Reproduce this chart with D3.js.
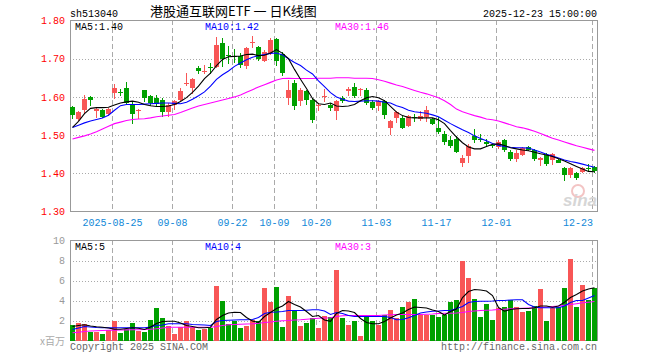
<!DOCTYPE html>
<html>
<head>
<meta charset="utf-8">
<script src="https://cdn.jsdelivr.net/npm/d3@7"></script>
<style>
  body { margin: 0; background: #fff; }
  text { font-family: "Liberation Mono", "DejaVu Sans Mono", monospace; font-size: 10px; }
</style>
</head>
<body>
<div id="chart"></div>
<script>
// daily candles, 2025-08-14 .. 2025-12-23
var opens = [1.574,1.543,1.565,1.599,1.564,1.566,1.555,1.610,1.612,1.622,1.578,1.563,1.617,1.603,1.596,1.593,1.560,1.579,1.593,1.633,
  1.624,1.675,1.664,1.679,1.678,1.740,1.710,1.706,1.707,1.680,1.741,1.730,1.694,1.714,1.751,1.713,1.596,1.637,1.588,1.615,
  1.593,1.575,1.600,1.579,1.563,1.597,1.615,1.625,1.618,1.619,1.586,1.575,1.588,1.518,1.545,1.546,1.523,1.547,1.542,1.547,
  1.541,1.518,1.504,1.488,1.490,1.426,1.446,1.497,1.490,1.483,1.473,1.469,1.488,1.457,1.437,1.449,1.468,1.461,1.435,1.447,
  1.436,1.435,1.413,1.396,1.400,1.403,1.413,1.417];
var highs = [1.577,1.564,1.605,1.603,1.571,1.569,1.572,1.633,1.621,1.638,1.588,1.568,1.619,1.606,1.604,1.597,1.585,1.591,1.624,1.662,
  1.649,1.680,1.683,1.689,1.757,1.753,1.733,1.726,1.716,1.730,1.759,1.733,1.722,1.753,1.753,1.717,1.645,1.645,1.624,1.619,
  1.597,1.584,1.621,1.584,1.593,1.602,1.626,1.637,1.624,1.622,1.591,1.593,1.593,1.540,1.564,1.551,1.553,1.556,1.562,1.575,
  1.545,1.547,1.511,1.497,1.498,1.448,1.478,1.516,1.504,1.490,1.478,1.488,1.490,1.461,1.460,1.468,1.472,1.463,1.443,1.453,
  1.454,1.438,1.417,1.417,1.404,1.417,1.425,1.418];
var lows = [1.541,1.538,1.556,1.575,1.545,1.544,1.551,1.594,1.603,1.581,1.529,1.543,1.586,1.575,1.575,1.548,1.548,1.566,1.588,1.628,
  1.608,1.660,1.659,1.659,1.676,1.679,1.686,1.688,1.675,1.672,1.729,1.694,1.692,1.710,1.680,1.654,1.579,1.567,1.575,1.580,
  1.532,1.563,1.586,1.563,1.540,1.585,1.602,1.597,1.602,1.579,1.567,1.564,1.542,1.501,1.532,1.516,1.521,1.534,1.536,1.533,
  1.527,1.504,1.475,1.466,1.453,1.416,1.426,1.479,1.481,1.468,1.465,1.463,1.457,1.431,1.429,1.444,1.459,1.431,1.418,1.419,
  1.422,1.426,1.381,1.387,1.383,1.400,1.404,1.402];
var closes = [1.552,1.560,1.595,1.591,1.569,1.548,1.569,1.622,1.610,1.584,1.556,1.567,1.596,1.585,1.581,1.560,1.580,1.589,1.615,1.636,
  1.646,1.667,1.667,1.677,1.735,1.700,1.708,1.704,1.684,1.727,1.743,1.700,1.717,1.749,1.694,1.663,1.617,1.576,1.617,1.593,
  1.540,1.578,1.603,1.571,1.588,1.588,1.621,1.602,1.620,1.584,1.571,1.590,1.553,1.536,1.560,1.518,1.549,1.545,1.551,1.566,
  1.530,1.509,1.483,1.472,1.457,1.440,1.472,1.487,1.489,1.476,1.472,1.481,1.461,1.437,1.454,1.466,1.460,1.437,1.439,1.425,
  1.451,1.427,1.396,1.414,1.387,1.414,1.412,1.405];

// moving averages as drawn on the chart
var ma5 = [1.520,1.536,1.556,1.570,1.572,1.572,1.573,1.579,1.584,1.587,1.589,1.586,1.580,1.577,1.575,1.575,1.576,1.580,1.588,1.598,
  1.612,1.628,1.648,1.662,1.682,1.698,1.705,1.706,1.707,1.711,1.712,1.708,1.709,1.715,1.724,1.714,1.700,1.672,1.646,1.622,
  1.596,1.582,1.580,1.584,1.576,1.575,1.576,1.580,1.590,1.598,1.601,1.598,1.590,1.575,1.560,1.551,1.546,1.545,1.545,1.545,
  1.545,1.540,1.530,1.512,1.495,1.480,1.469,1.464,1.464,1.470,1.476,1.477,1.473,1.467,1.464,1.461,1.459,1.455,1.451,1.448,
  1.444,1.438,1.432,1.425,1.418,1.411,1.405,1.404];
var ma10 = [1.520,1.526,1.532,1.537,1.541,1.545,1.552,1.565,1.577,1.580,1.580,1.580,1.581,1.582,1.583,1.584,1.584,1.583,1.582,1.586,
  1.594,1.603,1.613,1.628,1.646,1.658,1.668,1.680,1.689,1.697,1.704,1.708,1.711,1.714,1.715,1.710,1.700,1.690,1.682,1.670,
  1.660,1.642,1.627,1.611,1.600,1.594,1.589,1.588,1.589,1.590,1.590,1.589,1.586,1.584,1.577,1.572,1.565,1.561,1.559,1.557,
  1.553,1.548,1.539,1.530,1.522,1.514,1.507,1.498,1.491,1.485,1.478,1.473,1.470,1.468,1.467,1.467,1.466,1.461,1.456,1.450,
  1.445,1.440,1.435,1.431,1.428,1.424,1.420,1.416];
var ma30 = [1.490,1.494,1.498,1.503,1.509,1.516,1.523,1.530,1.534,1.538,1.541,1.542,1.543,1.545,1.548,1.550,1.552,1.554,1.559,1.565,
  1.571,1.576,1.580,1.584,1.588,1.592,1.596,1.600,1.605,1.612,1.619,1.626,1.632,1.638,1.644,1.648,1.649,1.648,1.648,1.648,
  1.648,1.649,1.649,1.649,1.650,1.650,1.650,1.649,1.649,1.649,1.648,1.645,1.641,1.636,1.631,1.627,1.622,1.617,1.612,1.608,
  1.603,1.598,1.590,1.580,1.568,1.561,1.556,1.551,1.547,1.542,1.540,1.537,1.532,1.527,1.522,1.519,1.515,1.510,1.504,1.498,
  1.492,1.487,1.482,1.477,1.472,1.468,1.464,1.460];

// volume, millions of shares
var volumes = [1.6,1.8,1.7,0.83,0.85,0.7,1.1,1.93,0.8,1.2,1.75,0.95,0.9,2.03,3.3,2.23,1.5,0.7,1.4,2.0,
  1.4,1.1,1.13,1.27,5.5,3.93,1.67,1.93,1.27,1.5,2.07,2.0,5.23,3.83,5.4,1.33,4.43,3.1,1.5,1.73,
  2.27,1.23,2.43,2.33,7.1,2.3,1.6,2.0,0.47,2.6,2.0,1.6,2.6,3.1,2.27,3.33,3.83,4.2,2.6,2.6,
  2.6,2.33,2.6,3.83,4.1,7.93,6.3,4.2,2.4,3.7,2.1,3.27,3.33,4.03,3.4,2.83,3.0,3.5,5.2,2.0,
  3.27,3.33,5.3,8.2,3.4,5.6,4.1,5.27];
var volMa5 = [1.40,1.50,1.57,1.45,1.38,1.33,1.25,1.12,1.12,1.20,1.28,1.22,1.10,1.35,1.70,1.90,1.93,1.93,1.75,1.50,
  1.40,1.27,1.28,1.33,2.10,2.50,2.75,2.83,2.80,2.30,1.95,1.80,2.40,2.80,3.20,3.45,3.90,3.60,3.35,2.90,
  2.40,2.50,2.05,1.92,2.70,3.00,2.95,2.80,2.20,1.80,1.67,1.67,1.90,2.25,2.55,2.75,3.10,3.35,3.30,3.25,
  3.05,2.90,2.55,2.90,3.15,4.30,4.90,5.10,5.05,4.95,4.50,3.30,2.93,3.10,3.17,3.20,3.20,3.27,3.45,3.45,
  3.33,3.45,3.83,4.30,4.60,4.95,5.15,5.27];
var volMa10 = [1.10,1.25,1.40,1.35,1.30,1.27,1.27,1.27,1.27,1.27,1.27,1.27,1.27,1.35,1.50,1.55,1.67,1.67,1.67,1.67,
  1.60,1.57,1.55,1.50,1.90,2.00,2.03,2.05,2.07,2.07,2.10,2.30,2.70,2.83,2.85,2.90,3.00,3.00,3.00,3.03,
  3.07,3.07,2.95,2.60,2.80,2.70,2.50,2.40,2.40,2.40,2.40,2.40,2.40,2.30,2.07,2.10,2.27,2.50,2.75,2.85,
  2.93,2.95,3.00,3.00,3.20,3.40,3.80,3.90,3.93,3.93,3.95,4.00,4.00,4.05,4.07,4.07,3.60,3.35,3.27,3.27,
  3.27,3.27,3.45,3.80,4.00,4.00,4.25,4.50];
var volMa30 = [0.77,0.83,0.90,0.95,0.98,1.00,1.02,1.04,1.05,1.06,1.07,1.08,1.10,1.12,1.17,1.25,1.33,1.33,1.33,1.33,
  1.33,1.33,1.33,1.33,1.40,1.50,1.57,1.60,1.62,1.65,1.67,1.72,1.80,1.85,1.92,1.97,2.00,2.05,2.07,2.12,
  2.18,2.22,2.25,2.27,2.40,2.47,2.50,2.50,2.50,2.50,2.50,2.50,2.55,2.58,2.60,2.60,2.60,2.60,2.60,2.62,
  2.65,2.70,2.73,2.73,2.75,2.80,2.90,2.95,3.00,3.03,3.05,3.10,3.13,3.17,3.20,3.23,3.25,3.27,3.30,3.35,
  3.40,3.45,3.52,3.60,3.68,3.77,3.83,3.90];

var tickIndex = [7, 17, 27, 34, 41, 51, 61, 71, 87];
var tickLabels = ["2025-08-25", "09-08", "09-22", "10-09", "10-20", "11-03", "11-17", "12-01", "12-23"];
var priceTicks = [1.30, 1.40, 1.50, 1.60, 1.70, 1.80];
var volTicks = [2, 4, 6, 8, 10];

var red = "#f85656", green = "#00a000";
var n = closes.length;
var left = 70, right = 597;

var svg = d3.select("#chart").append("svg")
  .attr("width", 660)
  .attr("height", 360);

var x = d3.scaleLinear().domain([0, n]).range([left, left + 6 * n]);
var y = d3.scaleLinear().domain([1.30, 1.80]).range([211.5, 20.5]);
var yv = d3.scaleLinear().domain([0, 10]).range([340.5, 240.5]);

function px(v) { return Math.round(v) + 0.5; }

// ---- header
svg.append("text").attr("x", 70).attr("y", 16.5).text("sh513040");
svg.append("text").attr("x", 150).attr("y", 15.5)
  .style("font-family", "'Noto Sans CJK SC', sans-serif").style("font-size", "13px")
  .text("港股通互联网ETF 一 日K线图");
svg.append("text").attr("x", right).attr("y", 16.5).attr("text-anchor", "end").text("2025-12-23 15:00:00");

// ---- grids for both panels
function panel(scale, ticks, top, bottom) {
  var g = svg.append("g");
  g.selectAll(".hgrid").data(ticks).enter().append("line")
    .attr("x1", left).attr("x2", right)
    .attr("y1", function(d) { return px(scale(d)); })
    .attr("y2", function(d) { return px(scale(d)); })
    .attr("stroke", "#aaa").attr("stroke-dasharray", "1,2");
  g.selectAll(".vgrid").data(tickIndex).enter().append("line")
    .attr("x1", function(d) { return px(x(d)); })
    .attr("x2", function(d) { return px(x(d)); })
    .attr("y1", top).attr("y2", bottom)
    .attr("stroke", "#aaa").attr("stroke-dasharray", "5,3");
  g.append("rect")
    .attr("x", left + 0.5).attr("y", top + 0.5)
    .attr("width", right - left).attr("height", bottom - top)
    .attr("fill", "none").attr("stroke", "#999");
}
panel(y, [1.40, 1.50, 1.60, 1.70], 20, 211);
panel(yv, [2, 4, 6, 8], 240, 340);

// ---- candles
var idx = d3.range(n);
var candles = svg.append("g").attr("shape-rendering", "crispEdges");
candles.selectAll("line").data(idx).enter().append("line")
  .attr("x1", function(i) { return x(i) + 2.5; })
  .attr("x2", function(i) { return x(i) + 2.5; })
  .attr("y1", function(i) { return y(highs[i]); })
  .attr("y2", function(i) { return y(lows[i]); })
  .attr("stroke", function(i) { return closes[i] >= opens[i] ? red : green; });
candles.selectAll("rect").data(idx).enter().append("rect")
  .attr("x", function(i) { return x(i); })
  .attr("width", 5)
  .attr("y", function(i) { return y(Math.max(opens[i], closes[i])); })
  .attr("height", function(i) { return Math.max(1, Math.abs(y(opens[i]) - y(closes[i]))); })
  .attr("fill", function(i) { return closes[i] >= opens[i] ? red : green; });

// ---- volume bars
svg.append("g").attr("shape-rendering", "crispEdges")
  .selectAll("rect").data(idx).enter().append("rect")
  .attr("x", function(i) { return x(i); })
  .attr("width", 5)
  .attr("y", function(i) { return yv(volumes[i]); })
  .attr("height", function(i) { return yv(0) - yv(volumes[i]); })
  .attr("fill", function(i) { return closes[i] >= opens[i] ? red : green; });

// ---- moving average lines
function maLine(values, scale, color) {
  var line = d3.line()
    .x(function(d, i) { return x(i) + 2.5; })
    .y(function(d) { return scale(d); });
  svg.append("path").datum(values)
    .attr("d", line)
    .attr("fill", "none")
    .attr("stroke", color)
    .attr("stroke-width", 1.1);
}
maLine(ma30, y, "#ff00ff");
maLine(ma10, y, "#0000ff");
maLine(ma5, y, "#000");
maLine(volMa30, yv, "#ff00ff");
maLine(volMa10, yv, "#0000ff");
maLine(volMa5, yv, "#000");

// ---- legends
var legends = [
  {x: 75, y: 29.5, c: "#000", t: "MA5:1.40"},
  {x: 205, y: 29.5, c: "#0000ff", t: "MA10:1.42"},
  {x: 335, y: 29.5, c: "#ff00ff", t: "MA30:1.46"},
  {x: 75, y: 249.5, c: "#000", t: "MA5:5"},
  {x: 205, y: 249.5, c: "#0000ff", t: "MA10:4"},
  {x: 335, y: 249.5, c: "#ff00ff", t: "MA30:3"}
];
svg.selectAll(".legend").data(legends).enter().append("text")
  .attr("x", function(d) { return d.x; })
  .attr("y", function(d) { return d.y; })
  .attr("fill", function(d) { return d.c; })
  .text(function(d) { return d.t; });

// ---- axes
var yAxis = svg.append("g").attr("transform", "translate(" + left + ",0)")
  .call(d3.axisLeft(y).tickValues(priceTicks).tickFormat(d3.format(".2f")).tickSize(0).tickPadding(5));
yAxis.select(".domain").remove();
yAxis.selectAll("text").attr("fill", "#f00").style("font-size", "10px").style("font-family", null);

var vAxis = svg.append("g").attr("transform", "translate(" + left + ",0)")
  .call(d3.axisLeft(yv).tickValues(volTicks).tickFormat(d3.format("d")).tickSize(0).tickPadding(5));
vAxis.select(".domain").remove();
vAxis.selectAll("text").attr("fill", "#999").style("font-size", "10px").style("font-family", null);

var xAxis = svg.append("g").attr("transform", "translate(0,211)")
  .call(d3.axisBottom(x).tickValues(tickIndex)
    .tickFormat(function(d) { return tickLabels[tickIndex.indexOf(d)]; })
    .tickSize(0).tickPadding(8));
xAxis.select(".domain").remove();
xAxis.selectAll("text").attr("fill", "#1188d8").style("font-size", "10px").style("font-family", null);
xAxis.selectAll(".tick").filter(function(d) { return d === tickIndex[tickIndex.length - 1]; })
  .select("text").attr("text-anchor", "end").attr("x", 0.5);

// ---- footer
svg.append("text").attr("x", 65).attr("y", 345).attr("text-anchor", "end").attr("fill", "#aaa")
  .style("font-family", "'Noto Sans CJK SC', sans-serif").text("x百万");
svg.append("text").attr("x", 70).attr("y", 350).attr("fill", "#666").text("Copyright 2025 SINA.COM");
svg.append("text").attr("x", right).attr("y", 350).attr("text-anchor", "end").attr("fill", "#666")
  .text("http://finance.sina.com.cn");

// sina watermark
svg.append("circle").attr("cx", 578).attr("cy", 191).attr("r", 6)
  .attr("fill", "none").attr("stroke", "#f3c4c4").attr("stroke-width", 2);
svg.append("text").attr("x", 563).attr("y", 206)
  .style("font-family", "'Liberation Sans', sans-serif").style("font-size", "17px")
  .style("font-style", "italic").style("font-weight", "bold")
  .attr("fill", "#d6d6d6").text("sina");
</script>
</body>
</html>
